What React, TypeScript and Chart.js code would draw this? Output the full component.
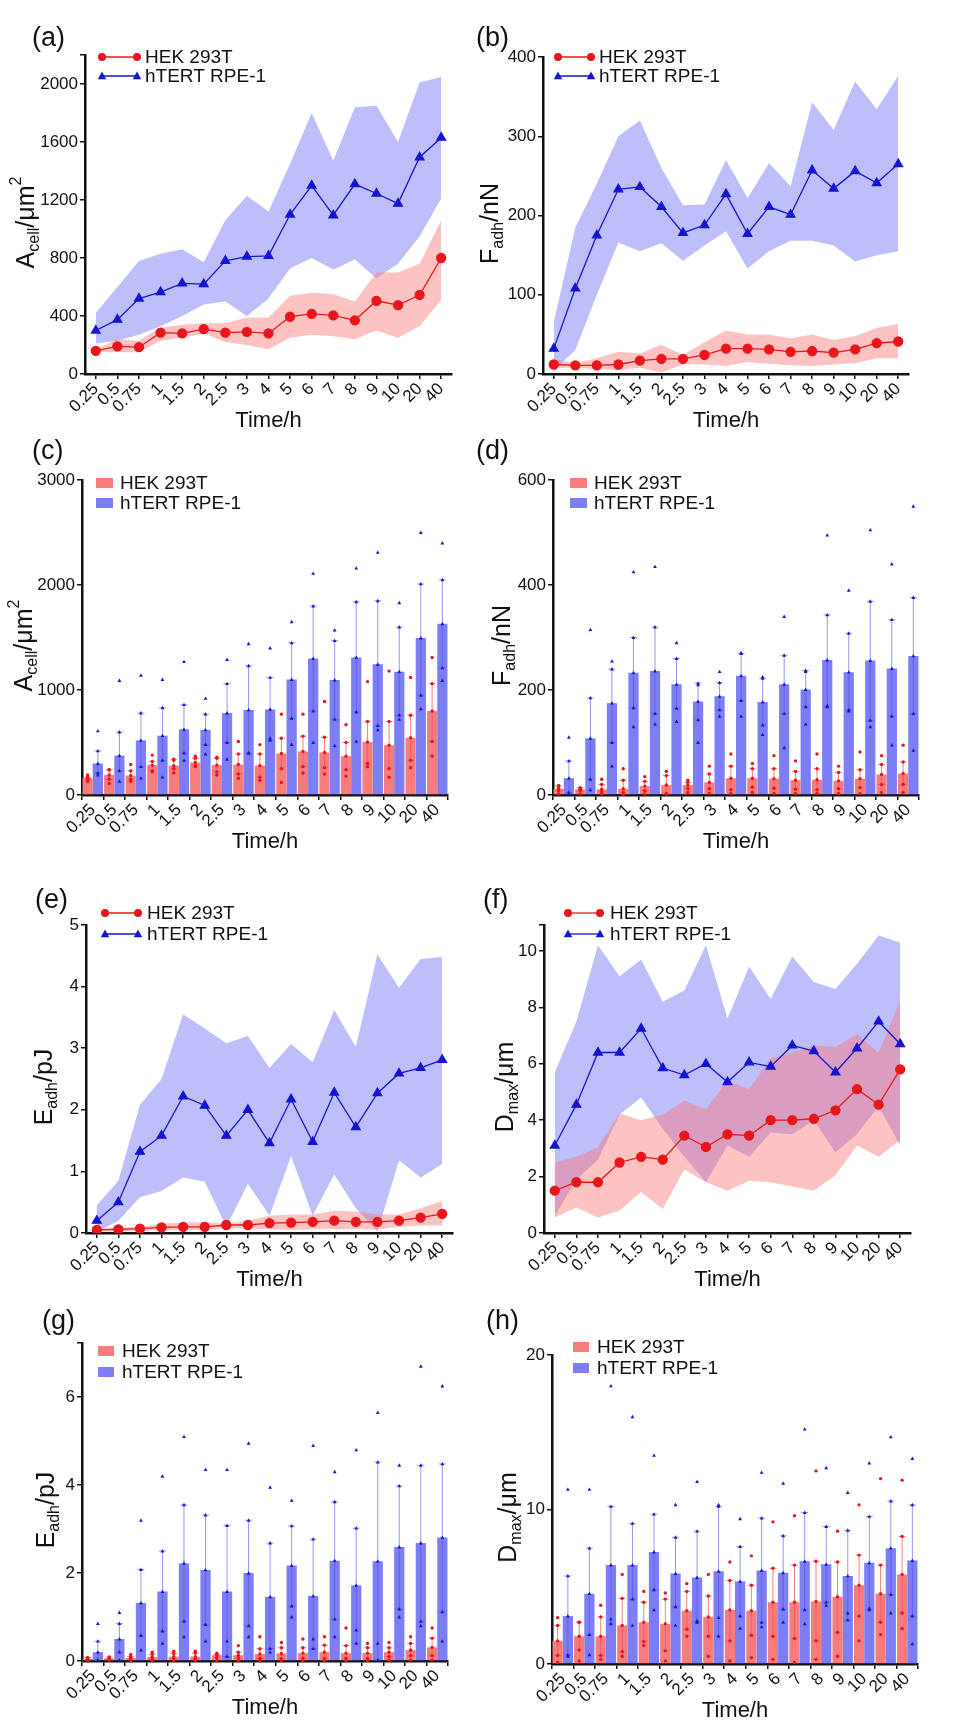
import React, { useEffect, useRef } from "react";
import { Chart, registerables } from "chart.js";
Chart.register(...registerables);

const categories = ["0.25","0.5","0.75","1","1.5","2","2.5","3","4","5","6","7","8","9","10","20","40"];

// (a)/(c) cell area
const areaRpeMean = [300,375,520,565,625,620,780,810,815,1100,1300,1095,1310,1245,1175,1495,1630];
const areaRpeUpper = [420,600,780,830,860,770,1060,1230,1120,1450,1800,1470,1840,1850,1600,2010,2050];
const areaRpeLower = [210,230,270,330,400,480,500,400,520,730,800,720,790,660,760,950,1210];
const areaHekMean = [160,190,185,285,280,310,285,290,280,395,415,405,370,505,475,545,800];
const areaHekUpper = [170,240,230,320,340,350,350,390,390,540,560,550,500,700,700,760,1060];
const areaHekLower = [150,150,150,230,250,280,220,200,170,250,270,260,240,300,250,330,510];
const areaRpeDotMax = [610,1090,1140,1100,1270,920,1290,1440,1400,1650,2110,1570,2160,2310,1830,2500,2400];
const areaRpeDotMin = [190,130,160,170,330,390,340,400,540,480,500,470,510,620,720,820,1090];
const areaHekDotMax = [190,240,290,380,330,370,360,510,480,770,770,890,670,1080,1180,1120,1310];
const areaHekDotMin = [130,110,130,220,210,270,190,160,140,120,210,200,180,270,170,260,370];

// (b)/(d) adhesion force
const forceRpeMean = [32,108,175,233,236,211,178,188,227,177,211,201,257,234,256,241,265];
const forceRpeUpper = [65,185,240,300,320,260,213,214,270,222,266,237,343,308,369,334,376];
const forceRpeLower = [5,30,100,166,155,165,143,162,180,133,155,168,168,162,142,150,155];
const forceHekMean = [12,11,11,12,17,19,19,24,32,32,31,28,29,27,31,39,41];
const forceHekUpper = [18,14,20,28,26,37,24,40,55,50,50,45,50,43,48,58,63];
const forceHekLower = [8,8,6,5,8,2,12,12,10,15,13,11,10,12,14,20,20];
const forceRpeDotMax = [110,315,255,425,435,290,210,235,270,225,340,235,495,390,505,440,550];
const forceRpeDotMin = [2,10,55,130,135,140,100,150,150,115,90,135,170,160,130,95,85];
const forceHekDotMax = [15,12,30,50,35,45,28,55,78,60,75,65,78,55,82,75,95];
const forceHekDotMin = [2,2,2,1,2,3,5,3,3,5,3,3,3,3,3,5,5];

// (e)/(g) adhesion energy
const energyRpeMean = [0.2,0.5,1.32,1.58,2.22,2.07,1.58,2.0,1.46,2.17,1.48,2.28,1.72,2.27,2.59,2.68,2.81];
const energyRpeUpper = [0.45,0.85,2.08,2.5,3.55,3.32,3.08,3.2,2.68,3.07,2.77,3.62,3.02,4.52,3.98,4.45,4.48];
const energyRpeLower = [0.02,0.2,0.58,0.68,0.9,0.83,0.1,0.8,0.28,1.25,0.28,0.95,0.4,0.02,1.18,0.9,1.12];
const energyHekMean = [0.05,0.06,0.07,0.09,0.1,0.1,0.13,0.13,0.16,0.17,0.18,0.2,0.18,0.18,0.2,0.25,0.31];
const energyHekUpper = [0.08,0.09,0.1,0.15,0.17,0.18,0.15,0.2,0.28,0.3,0.3,0.36,0.35,0.3,0.3,0.4,0.52];
const energyHekLower = [0.03,0.03,0.04,0.04,0.05,0.05,0.08,0.07,0.06,0.05,0.06,0.06,0.06,0.06,0.1,0.12,0.12];
const energyRpeDotMax = [0.85,1.1,3.2,4.2,5.1,4.35,4.35,4.95,3.95,3.65,4.9,4.3,4.8,5.65,4.45,6.7,6.25];
const energyRpeDotMin = [0.01,0.02,0.25,0.4,0.55,0.45,0.45,0.55,0.2,1.0,0.5,0.55,0.7,0.4,1.0,0.8,0.45];
const energyHekDotMax = [0.05,0.05,0.15,0.2,0.22,0.22,0.18,0.35,0.55,0.42,0.5,0.55,0.75,0.4,0.42,0.55,0.75];
const energyHekDotMin = [0.01,0.01,0.01,0.01,0.01,0.01,0.01,0.01,0.01,0.01,0.01,0.01,0.01,0.01,0.02,0.02,0.02];

// (f)/(h) max detachment distance
const distRpeMean = [3.1,4.55,6.4,6.4,7.25,5.85,5.6,6.0,5.35,6.05,5.9,6.65,6.45,5.7,6.55,7.5,6.7];
const distRpeUpper = [5.7,7.5,10.2,9.1,9.7,8.2,8.6,10.2,7.6,9.45,8.3,9.8,8.9,8.65,9.55,10.55,10.3];
const distRpeLower = [0.6,1.9,2.6,4.2,4.8,3.7,2.7,1.8,3.1,2.7,3.55,3.5,4.0,2.85,3.5,4.5,3.1];
const distHekMean = [1.5,1.8,1.8,2.5,2.7,2.6,3.45,3.05,3.5,3.45,4.0,4.0,4.05,4.35,5.1,4.55,5.8];
const distHekUpper = [2.5,2.7,3.05,4.25,4.0,4.2,4.7,4.4,5.4,5.1,6.2,6.4,6.65,6.6,7.05,6.4,8.25];
const distHekLower = [0.55,0.9,0.55,0.8,1.45,0.85,2.25,1.8,1.5,1.85,1.8,1.65,1.5,2.05,3.1,2.7,3.3];
const distRpeDotMax = [11.3,11.3,18,16,13.5,10.3,11.8,10.3,9.4,12.4,11.7,15.2,12.7,11.1,13.0,14.7,13.3];
const distRpeDotMin = [0.5,0.6,2.9,2.5,3.5,2.5,2.8,3.0,2.3,2.4,2.7,2.6,3.8,3.3,3.6,3.3,1.3];
const distHekDotMax = [3.0,2.7,3.8,5.8,4.7,4.6,5.2,5.8,6.6,7.0,9.2,9.6,12.5,8.6,10.3,12.0,11.9];
const distHekDotMin = [0.1,0.2,0.3,0.5,1.2,0.2,1.8,0.5,0.2,0.4,0.3,0.1,0.3,0.5,1.5,1.9,2.3];

const seriesNames = ["HEK 293T", "hTERT RPE-1"];

const RED = "#e8161b";
const BLUE = "#1515d0";
const RED_BAND = "rgba(250,120,120,0.45)";
const BLUE_BAND = "rgba(110,110,245,0.45)";
const RED_BAR = "#f77d7d";
const BLUE_BAR = "#7d7df6";
const FONT = "'Liberation Sans', Arial, sans-serif";

type Seg = { t: string; k?: "sub" | "sup" };
type Series = { mean: number[]; up: number[]; lo: number[]; dmax?: number[]; dmin?: number[] };
type Panel = {
  letter: string; lx: number; ly: number; kind: "line" | "bar";
  L: number; T: number; R: number; B: number; col: number;
  ymax: number; step: number; title: Seg[]; titleX: number;
  leg: { x0: number; x1: number; tx: number; y1: number; y2: number };
  hek: Series; rpe: Series;
};

const panels: Panel[] = [
  { letter: "(a)", lx: 32, ly: 37, kind: "line", L: 85, T: 55, R: 452, B: 374, col: 0, ymax: 2200, step: 400,
    title: [{ t: "A" }, { t: "cell", k: "sub" }, { t: "/μm" }, { t: "2", k: "sup" }], titleX: 27,
    leg: { x0: 102, x1: 137, tx: 145, y1: 57, y2: 76 },
    hek: { mean: areaHekMean, up: areaHekUpper, lo: areaHekLower }, rpe: { mean: areaRpeMean, up: areaRpeUpper, lo: areaRpeLower } },
  { letter: "(b)", lx: 476, ly: 37, kind: "line", L: 543, T: 57, R: 909, B: 374, col: 1, ymax: 400, step: 100,
    title: [{ t: "F" }, { t: "adh", k: "sub" }, { t: "/nN" }], titleX: 491,
    leg: { x0: 558, x1: 591, tx: 599, y1: 57, y2: 76 },
    hek: { mean: forceHekMean, up: forceHekUpper, lo: forceHekLower }, rpe: { mean: forceRpeMean, up: forceRpeUpper, lo: forceRpeLower } },
  { letter: "(c)", lx: 32, ly: 450, kind: "bar", L: 82, T: 480, R: 448, B: 795, col: 0, ymax: 3000, step: 1000,
    title: [{ t: "A" }, { t: "cell", k: "sub" }, { t: "/μm" }, { t: "2", k: "sup" }], titleX: 25,
    leg: { x0: 96, x1: 113, tx: 120, y1: 483, y2: 503 },
    hek: { mean: areaHekMean, up: areaHekUpper, lo: areaHekLower, dmax: areaHekDotMax, dmin: areaHekDotMin },
    rpe: { mean: areaRpeMean, up: areaRpeUpper, lo: areaRpeLower, dmax: areaRpeDotMax, dmin: areaRpeDotMin } },
  { letter: "(d)", lx: 476, ly: 450, kind: "bar", L: 553, T: 480, R: 919, B: 795, col: 1, ymax: 600, step: 200,
    title: [{ t: "F" }, { t: "adh", k: "sub" }, { t: "/nN" }], titleX: 503,
    leg: { x0: 570, x1: 587, tx: 594, y1: 483, y2: 503 },
    hek: { mean: forceHekMean, up: forceHekUpper, lo: forceHekLower, dmax: forceHekDotMax, dmin: forceHekDotMin },
    rpe: { mean: forceRpeMean, up: forceRpeUpper, lo: forceRpeLower, dmax: forceRpeDotMax, dmin: forceRpeDotMin } },
  { letter: "(e)", lx: 35, ly: 899, kind: "line", L: 86, T: 925, R: 453, B: 1233, col: 0, ymax: 5, step: 1,
    title: [{ t: "E" }, { t: "adh", k: "sub" }, { t: "/pJ" }], titleX: 45,
    leg: { x0: 105, x1: 138, tx: 147, y1: 913, y2: 934 },
    hek: { mean: energyHekMean, up: energyHekUpper, lo: energyHekLower }, rpe: { mean: energyRpeMean, up: energyRpeUpper, lo: energyRpeLower } },
  { letter: "(f)", lx: 483, ly: 899, kind: "line", L: 544, T: 925, R: 911, B: 1233, col: 1, ymax: 10.92, step: 2,
    title: [{ t: "D" }, { t: "max", k: "sub" }, { t: "/μm" }], titleX: 506,
    leg: { x0: 568, x1: 600, tx: 610, y1: 913, y2: 934 },
    hek: { mean: distHekMean, up: distHekUpper, lo: distHekLower }, rpe: { mean: distRpeMean, up: distRpeUpper, lo: distRpeLower } },
  { letter: "(g)", lx: 42, ly: 1320, kind: "bar", L: 82, T: 1343, R: 448, B: 1661, col: 0, ymax: 7.23, step: 2,
    title: [{ t: "E" }, { t: "adh", k: "sub" }, { t: "/pJ" }], titleX: 47,
    leg: { x0: 98, x1: 114, tx: 122, y1: 1351, y2: 1372 },
    hek: { mean: energyHekMean, up: energyHekUpper, lo: energyHekLower, dmax: energyHekDotMax, dmin: energyHekDotMin },
    rpe: { mean: energyRpeMean, up: energyRpeUpper, lo: energyRpeLower, dmax: energyRpeDotMax, dmin: energyRpeDotMin } },
  { letter: "(h)", lx: 486, ly: 1320, kind: "bar", L: 552, T: 1355, R: 918, B: 1664, col: 1, ymax: 20, step: 10,
    title: [{ t: "D" }, { t: "max", k: "sub" }, { t: "/μm" }], titleX: 509,
    leg: { x0: 573, x1: 589, tx: 597, y1: 1347, y2: 1368 },
    hek: { mean: distHekMean, up: distHekUpper, lo: distHekLower, dmax: distHekDotMax, dmin: distHekDotMin },
    rpe: { mean: distRpeMean, up: distRpeUpper, lo: distRpeLower, dmax: distRpeDotMax, dmin: distRpeDotMin } },
];

const CAT_PCT = 0.95;
const OFF = CAT_PCT / 4;

function drawTriangle(ctx: CanvasRenderingContext2D, x: number, y: number, r: number) {
  ctx.beginPath();
  ctx.moveTo(x, y - r);
  ctx.lineTo(x + r * 0.95, y + r * 0.7);
  ctx.lineTo(x - r * 0.95, y + r * 0.7);
  ctx.closePath();
  ctx.fill();
}

function PanelChart({ p }: { p: Panel }) {
  const ref = useRef<HTMLCanvasElement | null>(null);
  const cl = p.col === 0 ? 0 : 476;
  const ct = p.T - 22;
  const cr = p.R + 20;
  const cb = p.B + 64;
  const W = cr - cl, H = cb - ct;

  useEffect(() => {
    const canvas = ref.current!;
    const datasets: any[] = [];
    if (p.kind === "line") {
      datasets.push(
        { type: "line", data: p.rpe.up, borderWidth: 0, pointRadius: 0, backgroundColor: BLUE_BAND, fill: "+1", order: 3 },
        { type: "line", data: p.rpe.lo, borderWidth: 0, pointRadius: 0, fill: false, order: 3 },
        { type: "line", data: p.hek.up, borderWidth: 0, pointRadius: 0, backgroundColor: RED_BAND, fill: "+1", order: 2 },
        { type: "line", data: p.hek.lo, borderWidth: 0, pointRadius: 0, fill: false, order: 2 },
        { type: "line", data: p.rpe.mean, borderColor: BLUE, backgroundColor: BLUE, borderWidth: 1.3, pointStyle: "triangle", pointRadius: 5, fill: false, order: 1 },
        { type: "line", data: p.hek.mean, borderColor: RED, backgroundColor: RED, borderWidth: 1.3, pointStyle: "circle", pointRadius: 4.5, fill: false, order: 0 },
      );
    } else {
      datasets.push(
        { type: "bar", data: p.hek.mean, backgroundColor: RED_BAR, categoryPercentage: CAT_PCT, barPercentage: 1 },
        { type: "bar", data: p.rpe.mean, backgroundColor: BLUE_BAR, categoryPercentage: CAT_PCT, barPercentage: 1 },
      );
    }

    const decor = {
      id: "decor",
      afterDatasetsDraw(chart: any) {
        const ctx: CanvasRenderingContext2D = chart.ctx;
        const ys = chart.scales.y;
        const xs = chart.scales.x;
        if (p.kind === "bar") {
          const cw = (chart.chartArea.right - chart.chartArea.left) / categories.length;
          const px = (i: number, sign: number) => xs.getPixelForValue(i) + sign * OFF * cw;
          const err = (s: Series, sign: number, color: string) => {
            ctx.save();
            ctx.strokeStyle = color;
            ctx.lineWidth = 1;
            s.mean.forEach((_, i) => {
              const x = px(i, sign);
              const y1 = ys.getPixelForValue(s.up[i]);
              const y0 = ys.getPixelForValue(s.lo[i]);
              ctx.beginPath();
              ctx.moveTo(x, y0); ctx.lineTo(x, y1);
              ctx.moveTo(x - 3.5, y1); ctx.lineTo(x + 3.5, y1);
              ctx.moveTo(x - 3.5, y0); ctx.lineTo(x + 3.5, y0);
              ctx.stroke();
            });
            ctx.restore();
          };
          err(p.hek, -1, "rgba(235,90,90,0.75)");
          err(p.rpe, 1, "rgba(80,80,220,0.6)");
          const dots = (vals: number[], sign: number, color: string, tri: boolean) => {
            ctx.save();
            ctx.fillStyle = color;
            vals.forEach((v, i) => {
              const x = px(i, sign), y = ys.getPixelForValue(v);
              if (tri) drawTriangle(ctx, x, y, 2);
              else { ctx.beginPath(); ctx.arc(x, y, 1.7, 0, Math.PI * 2); ctx.fill(); }
            });
            ctx.restore();
          };
          [p.hek.dmax!, p.hek.dmin!, p.hek.up, p.hek.lo, p.hek.mean].forEach((a) => dots(a, -1, RED, false));
          [p.rpe.dmax!, p.rpe.dmin!, p.rpe.up, p.rpe.lo, p.rpe.mean].forEach((a) => dots(a, 1, BLUE, true));
        }
      },
      afterDraw(chart: any) {
        const ctx: CanvasRenderingContext2D = chart.ctx;
        ctx.save();
        const fs = 25;
        const segFont = (k?: string) => `${k ? Math.round(fs * 0.62) : fs}px ${FONT}`;
        let total = 0;
        p.title.forEach((s) => { ctx.font = segFont(s.k); total += ctx.measureText(s.t).width; });
        ctx.translate(p.titleX - cl, (p.T + p.B) / 2 - ct + 8);
        ctx.rotate(-Math.PI / 2);
        ctx.fillStyle = "#111";
        ctx.textBaseline = "middle";
        ctx.textAlign = "left";
        let x = -total / 2;
        p.title.forEach((s) => {
          ctx.font = segFont(s.k);
          const dy = s.k === "sub" ? fs * 0.3 : s.k === "sup" ? -fs * 0.42 : 0;
          ctx.fillText(s.t, x, dy);
          x += ctx.measureText(s.t).width;
        });
        ctx.restore();

        ctx.save();
        ctx.font = `22px ${FONT}`;
        ctx.fillStyle = "#111";
        ctx.textAlign = "center";
        ctx.textBaseline = "middle";
        ctx.fillText("Time/h", (p.L + p.R) / 2 - cl, p.B + 47 - ct);
        ctx.restore();

        ctx.save();
        const lg = p.leg;
        const rows = [
          { y: lg.y1, c: RED, bar: RED_BAR, tri: false },
          { y: lg.y2, c: BLUE, bar: BLUE_BAR, tri: true },
        ];
        rows.forEach((r, idx) => {
          const y = r.y - ct;
          const x0 = lg.x0 - cl, x1 = lg.x1 - cl;
          if (p.kind === "line") {
            ctx.strokeStyle = r.c; ctx.lineWidth = 1.3;
            ctx.beginPath(); ctx.moveTo(x0, y); ctx.lineTo(x1, y); ctx.stroke();
            ctx.fillStyle = r.c;
            [x0, x1].forEach((xx) => {
              if (r.tri) drawTriangle(ctx, xx, y, 4.5);
              else { ctx.beginPath(); ctx.arc(xx, y, 4, 0, Math.PI * 2); ctx.fill(); }
            });
          } else {
            ctx.fillStyle = r.bar;
            ctx.fillRect(x0, y - 5, x1 - x0, 10);
          }
          ctx.fillStyle = "#111";
          ctx.font = `19px ${FONT}`;
          ctx.textAlign = "left";
          ctx.textBaseline = "middle";
          ctx.fillText(seriesNames[idx], lg.tx - cl, y + 1);
        });
        ctx.restore();
      },
    };

    const scales: any = {
      x: {
        type: "category", labels: categories, offset: true,
        grid: { display: true, drawOnChartArea: false, drawTicks: true, tickLength: 5, color: "#111", lineWidth: 1.5 },
        border: { display: true, color: "#111", width: 2.5 },
        ticks: { color: "#111", font: { size: 17, family: FONT }, maxRotation: 45, minRotation: 45, autoSkip: false, padding: 0 },
        afterFit: (s: any) => { s.height = cb - p.B; },
      },
      y: {
        min: 0, max: p.ymax,
        grid: { display: true, drawOnChartArea: false, drawTicks: true, tickLength: 5, color: "#111", lineWidth: 1.5 },
        border: { display: true, color: "#111", width: 2.5 },
        ticks: {
          stepSize: p.step, color: "#111", font: { size: 17, family: FONT }, padding: 2,
          callback: (v: number) => (Math.abs(v / p.step - Math.round(v / p.step)) < 1e-6 ? String(Math.round(v * 1000) / 1000) : ""),
        },
        afterFit: (s: any) => { s.width = p.L - cl; },
      },
    };

    const chart = new Chart(canvas, {
      type: p.kind === "bar" ? "bar" : "line",
      data: { labels: categories, datasets },
      options: {
        animation: false,
        responsive: false,
        devicePixelRatio: 1,
        layout: { padding: { left: 0, top: p.T - ct, right: cr - p.R, bottom: 0 } },
        plugins: { legend: { display: false }, tooltip: { enabled: false }, filler: { propagate: false } },
        scales,
      } as any,
      plugins: [decor],
    });
    return () => chart.destroy();
  }, []);

  return (
    <>
      <canvas ref={ref} width={W} height={H}
        style={{ position: "absolute", left: cl, top: ct, width: W, height: H }} />
      <div style={{ position: "absolute", left: p.lx, top: p.ly - 16, fontFamily: FONT, fontSize: 27, color: "#111", lineHeight: "32px" }}>
        {p.letter}
      </div>
    </>
  );
}

export default function App() {
  useEffect(() => {
    document.body.style.margin = "0";
    document.body.style.background = "#fff";
  }, []);
  return (
    <div style={{ position: "relative", width: 953, height: 1733, background: "#fff", overflow: "hidden" }}>
      {panels.map((p) => <PanelChart key={p.letter} p={p} />)}
    </div>
  );
}
